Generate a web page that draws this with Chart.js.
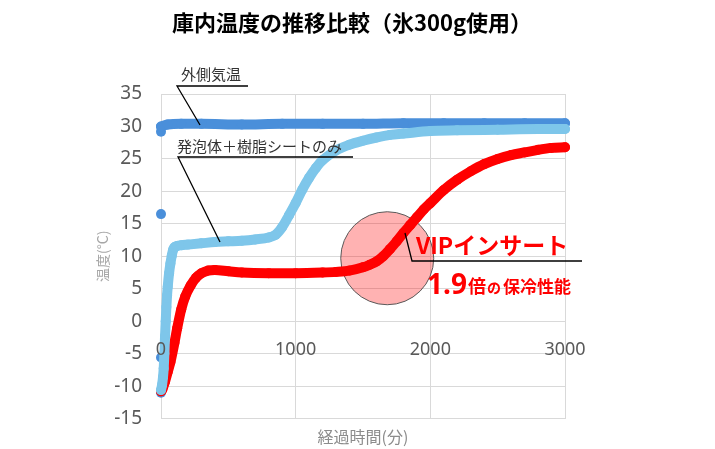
<!DOCTYPE html>
<html lang="ja">
<head>
<meta charset="utf-8">
<title>庫内温度の推移比較</title>
<script src="https://cdn.jsdelivr.net/npm/chart.js@4.4.1/dist/chart.umd.min.js"></script>
<style>
  html, body { margin: 0; padding: 0; background: #fff; }
  #wrap { position: relative; width: 715px; height: 449px; }
</style>
</head>
<body>
<div id="wrap"><canvas id="chart" width="715" height="449"></canvas></div>
<script>
// Values (minutes / degrees C)
const chartTitle = '庫内温度の推移比較（氷300g使用）';
const xTickLabels = [0, 1000, 2000, 3000];

// 外側気温 - first readings right at t=0, drawn as dots only
const outsideStartTime = [0, 0, 0, 0];
const outsideStartTemp = [-11.0, -5.6, 16.5, 29.2];
const outsideTime = [0, 50, 150, 300, 600, 900, 1200, 1500, 1800, 2100, 2400, 2700, 3000];
const outsideTemp = [30.0, 30.3, 30.4, 30.4, 30.3, 30.4, 30.4, 30.4, 30.5, 30.5, 30.5, 30.5, 30.5];

// 発泡体＋樹脂シートのみ
const foamTime = [0, 8, 15, 20, 25, 30, 35, 40, 45, 50, 60, 70, 80, 90, 100, 120, 150, 200, 300, 400,
  500, 600, 700, 800, 850, 900, 950, 1000, 1050, 1100, 1150, 1200, 1300, 1400, 1500, 1600, 1700,
  1800, 2000, 2200, 2500, 2800, 3000];
const foamTemp = [-10.6, -9.8, -8.6, -7.3, -5.0, -2.3, 0.0, 2.2, 4.0, 5.3, 7.4, 8.9, 10.1, 11.0, 11.4, 11.6, 11.7, 11.8, 12.0, 12.2,
  12.3, 12.4, 12.6, 12.9, 13.3, 14.5, 16.3, 18.2, 20.3, 22.1, 23.6, 24.8, 26.3, 27.2, 27.8, 28.3, 28.7,
  28.9, 29.3, 29.4, 29.5, 29.6, 29.6];

// VIPインサート
const vipTime = [0, 10, 30, 50, 70, 100, 120, 150, 180, 220, 260, 300, 350, 400, 500, 600, 800, 1000,
  1200, 1300, 1400, 1500, 1550, 1600, 1650, 1700, 1750, 1800, 1850, 1900, 1950, 2000, 2100, 2200,
  2300, 2400, 2500, 2600, 2700, 2800, 2900, 3000];
const vipTemp = [-10.8, -10.5, -9.3, -7.8, -6.3, -3.3, -1.1, 1.8, 3.8, 5.5, 6.7, 7.4, 7.8, 7.9, 7.7, 7.5, 7.4, 7.4,
  7.5, 7.6, 7.8, 8.3, 8.7, 9.2, 10.0, 11.1, 12.3, 13.6, 14.8, 16.0, 17.2, 18.2, 20.2, 21.8,
  23.1, 24.2, 25.0, 25.6, 26.0, 26.4, 26.7, 26.8];

// highlight circle centre (minutes, degrees)
const circleCenter = [1680, 9.7];

const toPoints = (xs, ys) => xs.map((t, i) => ({ x: t, y: ys[i] }));

const DARK_BLUE = '#4A8FDA';
const LIGHT_BLUE = '#7EC6EA';
const RED = '#FF0000';
const GRID = '#D9D9D9';
const JP = '"Noto Sans CJK JP", "Noto Sans", sans-serif';
const NUM = '"Noto Sans", "Liberation Sans", sans-serif';

function lineSet(label, data, color) {
  return {
    label: label,
    data: data,
    borderColor: color,
    backgroundColor: color,
    borderWidth: 10,
    pointRadius: 5,
    pointBorderWidth: 0,
    pointBackgroundColor: color,
    cubicInterpolationMode: 'monotone',
    borderCapStyle: 'round',
    borderJoinStyle: 'round',
    showLine: true,
    clip: false
  };
}

function drawLeader(ctx, pts) {
  ctx.beginPath();
  ctx.moveTo(pts[0][0], pts[0][1]);
  for (let i = 1; i < pts.length; i++) ctx.lineTo(pts[i][0], pts[i][1]);
  ctx.stroke();
}

const overlayPlugin = {
  id: 'overlay',
  beforeDatasetsDraw(chart) {
    const { ctx, scales: { x, y } } = chart;
    ctx.save();
    ctx.beginPath();
    ctx.arc(x.getPixelForValue(circleCenter[0]), y.getPixelForValue(circleCenter[1]), 46.5, 0, Math.PI * 2);
    ctx.fillStyle = 'rgba(255, 0, 0, 0.3)';
    ctx.fill();
    ctx.strokeStyle = '#595959';
    ctx.lineWidth = 1;
    ctx.stroke();
    ctx.restore();
  },
  afterDatasetsDraw(chart) {
    const { ctx, scales: { x, y } } = chart;
    ctx.save();

    // x tick labels sit where the horizontal axis crosses at 0
    ctx.font = '18px ' + NUM;
    ctx.fillStyle = '#595959';
    ctx.textAlign = 'center';
    ctx.textBaseline = 'middle';
    const labelY = y.getPixelForValue(0) + 29;
    xTickLabels.forEach(v => ctx.fillText(String(v), x.getPixelForValue(v), labelY));

    // series callouts
    ctx.strokeStyle = '#000';
    ctx.lineWidth = 1.3;
    ctx.fillStyle = '#333';
    ctx.textAlign = 'left';
    ctx.font = '15px ' + JP;
    ctx.fillText('外側気温', 181, 74);
    drawLeader(ctx, [[248, 86], [177, 86], [200, 125]]);
    ctx.fillText('発泡体＋樹脂シートのみ', 177, 146);
    drawLeader(ctx, [[353, 157], [178, 157], [220, 242]]);

    drawLeader(ctx, [[405, 233], [412, 261], [582, 261]]);
    ctx.fillStyle = RED;
    ctx.font = 'bold 23px ' + JP;
    ctx.fillText('VIPインサート', 416, 245);

    ctx.textBaseline = 'alphabetic';
    let cx = 427;
    ctx.font = 'bold 28px ' + NUM;
    ctx.fillText('1.9', cx, 294);
    cx += ctx.measureText('1.9').width + 1;
    ctx.font = 'bold 18px ' + JP;
    ctx.fillText('倍', cx, 293);
    cx += ctx.measureText('倍').width + 1;
    ctx.font = 'bold 14px ' + JP;
    ctx.fillText('の', cx, 293);
    cx += ctx.measureText('の').width + 2;
    ctx.font = 'bold 17px ' + JP;
    ctx.fillText('保冷性能', cx, 293);

    ctx.restore();
  },
  afterDraw(chart) {
    const { ctx } = chart;
    ctx.save();
    ctx.font = 'bold 22px ' + JP;
    ctx.fillStyle = '#000';
    ctx.textAlign = 'center';
    ctx.textBaseline = 'middle';
    ctx.fillText(chartTitle, 352, 23);
    ctx.restore();
  }
};

new Chart(document.getElementById('chart'), {
  type: 'scatter',
  data: {
    datasets: [
      lineSet('発泡体＋樹脂シートのみ', toPoints(foamTime, foamTemp), LIGHT_BLUE),
      lineSet('VIPインサート', toPoints(vipTime, vipTemp), RED),
      lineSet('外側気温', toPoints(outsideTime, outsideTemp), DARK_BLUE),
      Object.assign(lineSet('外側気温(開始)', toPoints(outsideStartTime, outsideStartTemp), DARK_BLUE), { showLine: false })
    ]
  },
  options: {
    responsive: false,
    animation: false,
    devicePixelRatio: 1,
    layout: { padding: { top: 94, right: 150, bottom: 0, left: 0 } },
    plugins: {
      legend: { display: false },
      tooltip: { enabled: false },
      title: { display: false }
    },
    scales: {
      x: {
        type: 'linear',
        min: 0,
        max: 3000,
        ticks: { stepSize: 1000, display: false },
        grid: { color: GRID, drawTicks: false, lineWidth: 1 },
        border: { color: GRID },
        title: {
          display: true,
          text: '経過時間(分)',
          color: '#8C8C8C',
          font: { family: JP, size: 16 },
          padding: { top: 0, bottom: 2 }
        },
        afterFit: s => { s.height = 30; }
      },
      y: {
        min: -15,
        max: 35,
        ticks: {
          stepSize: 5,
          padding: 19,
          color: '#595959',
          font: { family: NUM, size: 19 }
        },
        grid: { color: GRID, drawTicks: false, lineWidth: 1 },
        border: { color: GRID },
        title: {
          display: true,
          text: '温度(°C)',
          color: '#A6A6A6',
          font: { family: JP, size: 14 },
          padding: { top: 94, bottom: 0 }
        },
        afterFit: s => { s.width = 161; }
      }
    }
  },
  plugins: [overlayPlugin]
});
</script>
</body>
</html>
